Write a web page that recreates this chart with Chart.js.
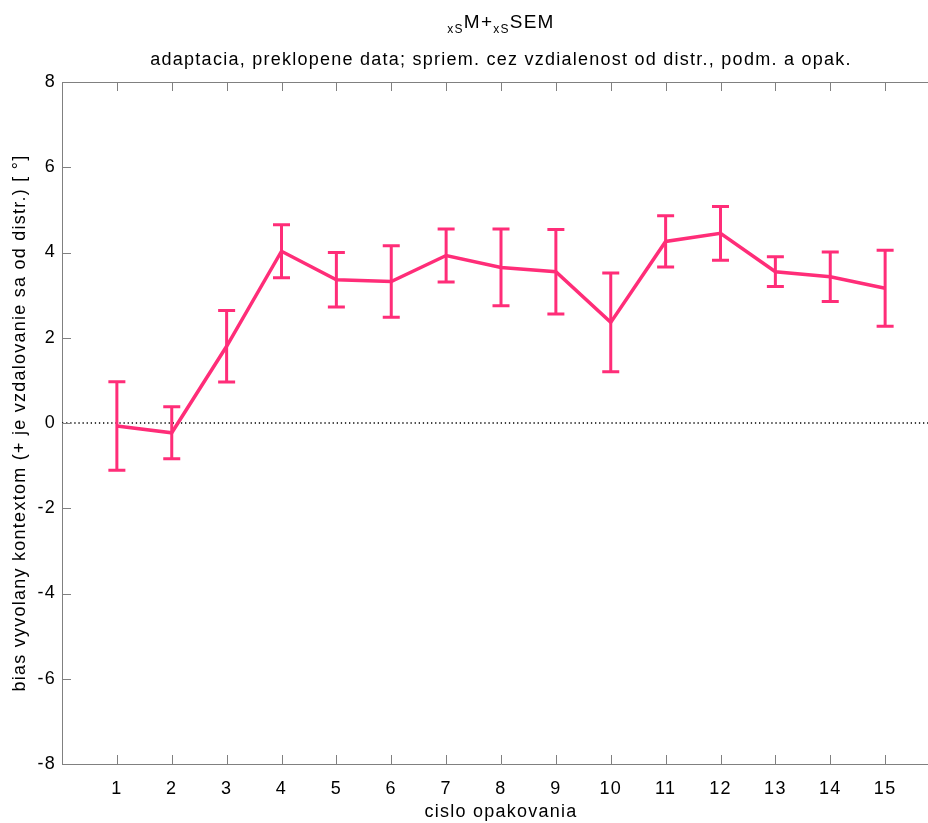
<!DOCTYPE html>
<html>
<head>
<meta charset="utf-8">
<script src="https://cdn.jsdelivr.net/npm/chart.js@4.4.1/dist/chart.umd.min.js"></script>
<style>
  html, body { margin: 0; padding: 0; overflow: hidden; background: #fff; width: 928px; height: 823px; }
  #wrap { position: absolute; left: 0; top: 0; width: 945px; height: 823px; }
</style>
</head>
<body>
<div id="wrap"><canvas id="c" width="945" height="823"></canvas></div>
<script>
'use strict';

// data (mean bias per repetition, +/- SEM)
const repetitions = [1, 2, 3, 4, 5, 6, 7, 8, 9, 10, 11, 12, 13, 14, 15];
const meanBias = [-0.07, -0.23, 1.80, 4.03, 3.36, 3.32, 3.93, 3.65, 3.55, 2.36, 4.26, 4.45, 3.55, 3.43, 3.16];
const semBias  = [1.04, 0.61, 0.84, 0.62, 0.64, 0.84, 0.62, 0.90, 0.99, 1.16, 0.60, 0.63, 0.35, 0.58, 0.89];
const yTicks = [-8, -6, -4, -2, 0, 2, 4, 6, 8];

const PINK = '#ff2d78';
const AXIS_GRAY = '#808080';
const FONT = 'Liberation Sans, Arial, Helvetica, sans-serif';

// error bars, zero line, inward ticks, top frame, title
const matlabLook = {
  id: 'matlabLook',
  beforeDraw(chart) {
    // the matlab export has wider letter spacing than Arial
    chart.ctx.letterSpacing = '1.25px';
  },
  beforeDatasetsDraw(chart) {
    const { ctx, chartArea: a, scales: { x, y } } = chart;
    ctx.save();
    // dotted zero line
    ctx.strokeStyle = '#000';
    ctx.lineWidth = 1.6;
    ctx.setLineDash([1.3, 2.8]);
    ctx.beginPath();
    ctx.moveTo(a.left, y.getPixelForValue(0));
    ctx.lineTo(a.right, y.getPixelForValue(0));
    ctx.stroke();
    ctx.setLineDash([]);

    // error bars
    ctx.strokeStyle = PINK;
    ctx.lineWidth = 3;
    ctx.lineCap = 'butt';
    repetitions.forEach((r, i) => {
      const px = x.getPixelForValue(r);
      const yHi = y.getPixelForValue(meanBias[i] + semBias[i]);
      const yLo = y.getPixelForValue(meanBias[i] - semBias[i]);
      ctx.beginPath();
      ctx.moveTo(px, yHi); ctx.lineTo(px, yLo);
      ctx.moveTo(px - 8.5, yHi); ctx.lineTo(px + 8.5, yHi);
      ctx.moveTo(px - 8.5, yLo); ctx.lineTo(px + 8.5, yLo);
      ctx.stroke();
    });
    ctx.restore();
  },
  afterDraw(chart) {
    const { ctx, chartArea: a, scales: { x, y } } = chart;
    ctx.save();
    ctx.strokeStyle = AXIS_GRAY;
    ctx.lineWidth = 1;
    // top frame line
    ctx.beginPath();
    ctx.moveTo(a.left, a.top + 0.5);
    ctx.lineTo(a.right, a.top + 0.5);
    ctx.stroke();
    // inward tick marks
    ctx.beginPath();
    x.ticks.forEach(t => {
      if (t.value <= x.min) return;
      const px = Math.round(x.getPixelForValue(t.value)) + 0.5;
      ctx.moveTo(px, a.bottom); ctx.lineTo(px, a.bottom - 9);
      ctx.moveTo(px, a.top); ctx.lineTo(px, a.top + 9);
    });
    y.ticks.forEach(t => {
      const py = Math.round(y.getPixelForValue(t.value)) + 0.5;
      ctx.moveTo(a.left, py); ctx.lineTo(a.left + 9, py);
    });
    ctx.stroke();

    // title  xS M+ xS SEM  (subscripts)
    const mainFont = '19px ' + FONT;
    const subFont = '12px ' + FONT;
    const parts = [['xS', subFont, 5], ['M+', mainFont, 0], ['xS', subFont, 5], ['SEM', mainFont, 0]];
    let total = 0;
    parts.forEach(p => { ctx.font = p[1]; total += ctx.measureText(p[0]).width; });
    const cx = (a.left + a.right) / 2;
    let tx = cx - total / 2;
    ctx.fillStyle = '#000';
    ctx.textBaseline = 'alphabetic';
    ctx.textAlign = 'left';
    parts.forEach(p => {
      ctx.font = p[1];
      ctx.fillText(p[0], tx, 28 + p[2]);
      tx += ctx.measureText(p[0]).width;
    });
    ctx.font = '18px ' + FONT;
    ctx.textAlign = 'center';
    ctx.fillText('adaptacia, preklopene data; spriem. cez vzdialenost od distr., podm. a opak.', cx, 65);
    ctx.restore();
  }
};

new Chart(document.getElementById('c'), {
  type: 'line',
  data: {
    datasets: [{
      data: repetitions.map((r, i) => ({ x: r, y: meanBias[i] })),
      borderColor: PINK,
      borderWidth: 3.5,
      pointRadius: 0,
      tension: 0,
      fill: false
    }]
  },
  options: {
    responsive: false,
    animation: false,
    layout: { padding: { top: 82, right: 5, left: 0, bottom: 0 } },
    plugins: { legend: { display: false }, tooltip: { enabled: false } },
    scales: {
      x: {
        type: 'linear',
        min: 0,
        max: 16,
        afterFit: s => { s.height = 59; s.paddingLeft = 0; s.paddingRight = 0; },
        ticks: {
          stepSize: 1,
          autoSkip: false,
          maxRotation: 0,
          padding: 14,
          color: '#000',
          font: { family: FONT, size: 18 },
          callback: v => (v >= 1 && v <= 15) ? String(v) : ''
        },
        grid: { display: false, drawTicks: false },
        border: { display: true, color: AXIS_GRAY, width: 1 },
        title: {
          display: true,
          text: 'cislo opakovania',
          color: '#000',
          font: { family: FONT, size: 18 },
          padding: { top: 0, bottom: 0 }
        }
      },
      y: {
        min: -8,
        max: 8,
        afterFit: s => { s.width = 62; },
        afterBuildTicks: s => { s.ticks = yTicks.map(v => ({ value: v })); },
        ticks: {
          padding: 6,
          color: '#000',
          font: { family: FONT, size: 18 }
        },
        grid: { display: false, drawTicks: false },
        border: { display: true, color: AXIS_GRAY, width: 1 },
        title: {
          display: true,
          text: 'bias vyvolany kontextom (+ je vzdalovanie sa od distr.) [ °]',
          color: '#000',
          font: { family: FONT, size: 18 },
          padding: { top: 9, bottom: 0 }
        }
      }
    }
  },
  plugins: [matlabLook]
});
</script>
</body>
</html>
